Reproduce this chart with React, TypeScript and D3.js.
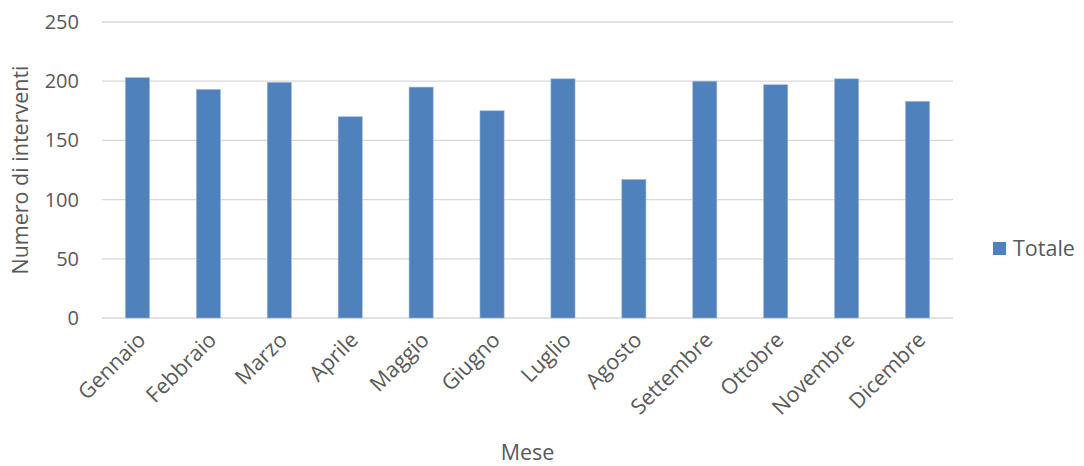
import React from "react";
import { scaleBand, scaleLinear } from "d3";

const months = [
  "Gennaio", "Febbraio", "Marzo", "Aprile", "Maggio", "Giugno",
  "Luglio", "Agosto", "Settembre", "Ottobre", "Novembre", "Dicembre",
];
const totals = [203, 193, 199, 170, 195, 175, 202, 117, 200, 197, 202, 183];
const yTicks = [0, 50, 100, 150, 200, 250];
const seriesName = "Totale";

const font = "'Open Sans', 'DejaVu Sans', sans-serif";
const textColor = "#595959";
const barColor = "#4F81BD";

export default function App() {
  const width = 1084;
  const height = 466;
  const margin = { top: 22, right: 131, bottom: 148, left: 102 };
  const innerWidth = width - margin.left - margin.right;
  const innerHeight = height - margin.top - margin.bottom;

  const x = scaleBand().domain(months).range([0, innerWidth]).paddingInner(0.66).paddingOuter(0.33);
  const y = scaleLinear().domain([0, 250]).range([innerHeight, 0]);

  return (
    <svg
      width={width}
      height={height}
      style={{ position: "absolute", left: 0, top: 0, background: "white" }}
      fontFamily={font}
    >
      <g transform={`translate(${margin.left},${margin.top})`}>
        {yTicks.map((t) => (
          <g key={t}>
            <line x1={0} x2={innerWidth} y1={y(t)} y2={y(t)} stroke="#D9D9D9" strokeWidth={1.3} />
            <text x={-23} y={y(t)} dy="0.35em" textAnchor="end" fontSize={20} fill={textColor}>
              {t}
            </text>
          </g>
        ))}
        {months.map((m, i) => (
          <rect
            key={m}
            x={x(m)}
            y={y(totals[i])}
            width={x.bandwidth()}
            height={innerHeight - y(totals[i])}
            fill={barColor}
            stroke="#9DB6D9"
            strokeWidth={0.6}
          />
        ))}
        {months.map((m) => {
          const cx = (x(m) ?? 0) + x.bandwidth() / 2 + 4;
          const cy = innerHeight + 18;
          return (
            <text
              key={m}
              transform={`translate(${cx},${cy}) rotate(-45)`}
              textAnchor="end"
              dy="0.35em"
              fontSize={21.5}
              fill={textColor}
            >
              {m}
            </text>
          );
        })}
      </g>
      <text
        transform={`translate(28,${margin.top + innerHeight / 2}) rotate(-90)`}
        textAnchor="middle"
        fontSize={21.5}
        fill={textColor}
      >
        Numero di interventi
      </text>
      <text x={margin.left + innerWidth / 2} y={460} textAnchor="middle" fontSize={21.5} fill={textColor}>
        Mese
      </text>
      <rect x={993} y={242} width={13} height={13} fill={barColor} />
      <text x={1013} y={248.5} dy="0.35em" fontSize={21.5} fill={textColor}>
        {seriesName}
      </text>
    </svg>
  );
}
